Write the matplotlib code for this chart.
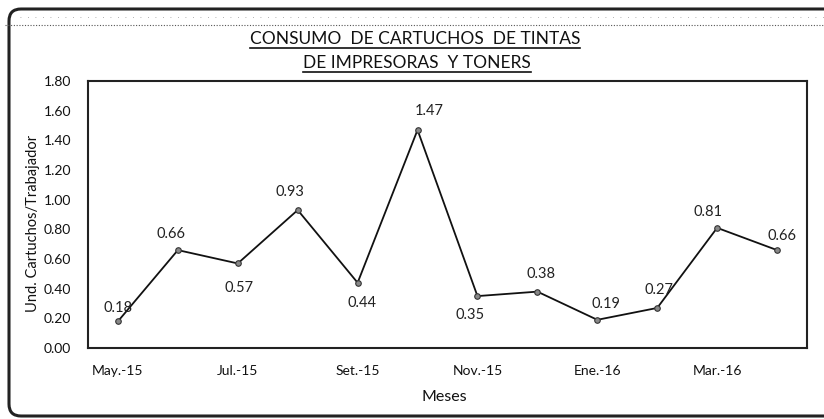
import matplotlib
matplotlib.use("Agg")
import matplotlib.pyplot as plt
from matplotlib.patches import PathPatch
from matplotlib.path import Path
from matplotlib.lines import Line2D
from matplotlib.transforms import IdentityTransform

plt.rcParams["font.family"] = ["Lato", "DejaVu Sans"]

meses = ["May.-15", "Jun.-15", "Jul.-15", "Ago.-15", "Set.-15", "Oct.-15",
         "Nov.-15", "Dic.-15", "Ene.-16", "Feb.-16", "Mar.-16", "Abr.-16"]
consumo = [0.18, 0.66, 0.57, 0.93, 0.44, 1.47, 0.35, 0.38, 0.19, 0.27, 0.81, 0.66]
yticks = [0.0, 0.2, 0.4, 0.6, 0.8, 1.0, 1.2, 1.4, 1.6, 1.8]

# label offsets in pixels (dx, dy) relative to each point
offs = [(0, 13), (-7, 16), (1, -25), (-8, 18), (4, -20), (12, 19),
        (-7, -19), (4, 18), (9, 16), (2, 18), (-9, 16), (5, 14)]

W, H = 824, 419
fig = plt.figure(figsize=(W / 100, H / 100), dpi=100)

def fx(px): return px / W
def fy(py): return 1 - py / H

ax = fig.add_axes([fx(88), fy(348), fx(807 - 88), (348 - 81) / H])
x = list(range(len(meses)))
ax.plot(x, consumo, color="#111111", lw=1.3, marker="o", ms=4,
        mfc="#888888", mec="#333333", mew=0.8, zorder=3)
for xi, v, (dx, dy) in zip(x, consumo, offs):
    ax.annotate(f"{v:.2f}", (xi, v), xytext=(dx, dy), textcoords="offset pixels",
                ha="center", va="center", fontsize=10.5, color="#222222")

ax.set_xlim(-0.5, len(meses) - 0.5)
ax.set_ylim(0, 1.8)
ax.set_yticks(yticks)
ax.set_yticklabels([f"{t:.2f}" for t in yticks])
ax.set_xticks(x[::2])
ax.set_xticklabels(meses[::2])
ax.tick_params(axis="both", length=0, labelsize=10, colors="#111111")
ax.tick_params(axis="y", pad=12)
ax.tick_params(axis="x", pad=12)
for s in ax.spines.values():
    s.set_linewidth(1.5)
    s.set_color("#222222")

fig.text(fx(33), fy(223), "Und. Cartuchos/Trabajador", rotation=90,
         ha="center", va="center", fontsize=10.5, color="#111111")
fig.text(fx(444), fy(397), "Meses", ha="center", va="center",
         fontsize=11.5, color="#111111")

t1 = fig.text(fx(415), fy(44), "CONSUMO  DE CARTUCHOS  DE TINTAS", ha="center",
              va="baseline", fontsize=12.5, color="#111111")
t2 = fig.text(fx(417), fy(68), "DE IMPRESORAS  Y TONERS", ha="center",
              va="baseline", fontsize=12.5, color="#111111")

# outer frame: open on the right (cut off in the scan), rounded left corners
L, T, B, R = 9, H - 9, H - 416, 12
verts = [(W + 20, T), (L + R, T), (L, T), (L, T - R),
         (L, B + R), (L, B), (L + R, B), (W + 20, B)]
codes = [Path.MOVETO, Path.LINETO, Path.CURVE3, Path.CURVE3,
         Path.LINETO, Path.CURVE3, Path.CURVE3, Path.LINETO]
fig.patches.append(PathPatch(Path(verts, codes), transform=IdentityTransform(),
                             fill=False, lw=2.2, ec="#222222"))
fig.lines.append(Line2D([fx(5), 1], [fy(25), fy(25)], transform=fig.transFigure,
                        color="#555555", lw=0.8, ls=(0, (1, 1.5))))
fig.lines.append(Line2D([fx(20), 1], [fy(17), fy(17)], transform=fig.transFigure,
                        color="#999999", lw=0.6, ls=(0, (1, 8))))

fig.canvas.draw()
r = fig.canvas.get_renderer()
for t, yb in ((t1, 48), (t2, 72)):
    bb = t.get_window_extent(r)
    fig.lines.append(Line2D([bb.x0 / W, bb.x1 / W], [fy(yb), fy(yb)],
                            transform=fig.transFigure, color="#111111", lw=1.2))

fig.savefig("out.png", dpi=100)
